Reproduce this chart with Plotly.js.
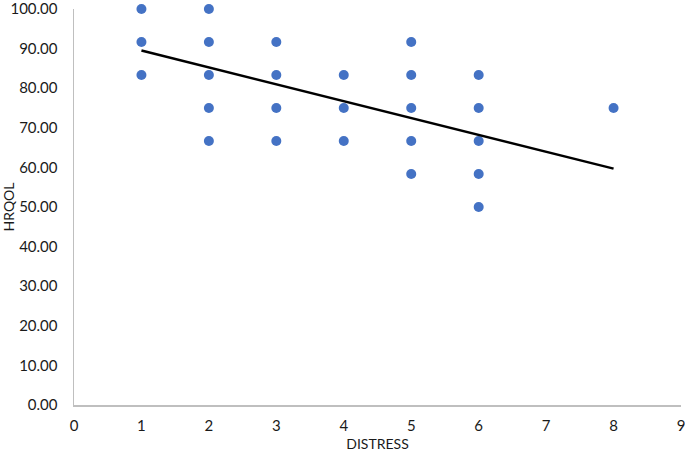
<!DOCTYPE html>
<html>
<head>
<meta charset="utf-8">
<script src="https://cdn.plot.ly/plotly-3.0.1.min.js"></script>
<style>html,body{margin:0;padding:0;background:#fff;}#chart{width:685px;height:452px;}</style>
</head>
<body>
<div id="chart"></div>
<script>
// Data
const distress = [1,1,1, 2,2,2,2,2, 3,3,3,3, 4,4,4, 5,5,5,5,5, 6,6,6,6,6, 8];
const hrqol = [100,91.67,83.33, 100,91.67,83.33,75,66.67, 91.67,83.33,75,66.67, 83.33,75,66.67, 91.67,83.33,75,66.67,58.33, 83.33,75,66.67,58.33,50, 75];
const trendX = [1, 8];
const trendY = [89.5, 59.7];
const xTicks = [0,1,2,3,4,5,6,7,8,9];
const yTicks = [0,10,20,30,40,50,60,70,80,90,100];

const font = "Lato, 'Open Sans', 'Liberation Sans', sans-serif";
const txt = '#1a1a1a';

const traces = [
  {x: distress, y: hrqol, type: 'scatter', mode: 'markers',
   marker: {color: '#4472C4', size: 10}, cliponaxis: false, hoverinfo: 'x+y'},
  {x: trendX, y: trendY, type: 'scatter', mode: 'lines',
   line: {color: '#000000', width: 2.5}, cliponaxis: false}
];

const layout = {
  width: 685, height: 452,
  margin: {l: 74, r: 4, t: 9, b: 47},
  paper_bgcolor: '#fff', plot_bgcolor: '#fff',
  showlegend: false,
  font: {family: font, size: 14, color: txt},
  xaxis: {
    range: [0, 9], tickvals: xTicks, ticktext: xTicks.map(String), ticklabeloverflow: 'allow',
    showgrid: false, zeroline: false, showline: true, linecolor: '#BFBFBF', linewidth: 1.5,
    ticks: 'outside', ticklen: 6, tickcolor: 'rgba(0,0,0,0)', tickfont: {size: 15, family: font, color: txt},
    title: {text: 'DISTRESS', font: {size: 14, family: font, color: txt}, standoff: 8}
  },
  yaxis: {
    range: [0, 100], tickvals: yTicks, ticktext: yTicks.map(v => v.toFixed(2)), ticklabeloverflow: 'allow',
    showgrid: false, zeroline: false, showline: true, linecolor: '#BFBFBF', linewidth: 1.5,
    ticks: 'outside', ticklen: 12, tickcolor: 'rgba(0,0,0,0)', tickfont: {size: 15, family: font, color: txt},
    title: {text: 'HRQOL', font: {size: 14, family: font, color: txt}, standoff: 6}
  }
};

Plotly.newPlot('chart', traces, layout, {displayModeBar: false, staticPlot: true});
</script>
</body>
</html>
